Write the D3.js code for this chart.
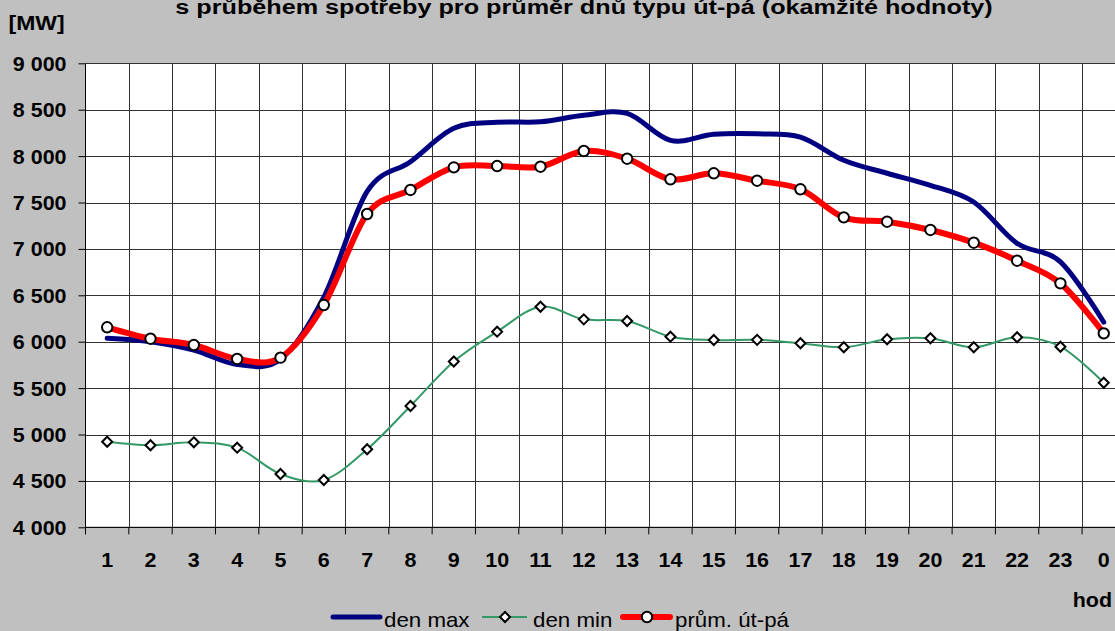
<!DOCTYPE html>
<html>
<head>
<meta charset="utf-8">
<script src="https://cdn.jsdelivr.net/npm/d3@7/dist/d3.min.js"></script>
<style>
  html, body { margin: 0; padding: 0; background: #c0c0c0; }
  svg { display: block; }
  text { font-family: "Liberation Sans", Arial, sans-serif; fill: #000; }
</style>
</head>
<body>
<svg id="chart" width="1115" height="631"></svg>
<script>
const categories = ["1","2","3","4","5","6","7","8","9","10","11","12","13","14","15","16","17","18","19","20","21","22","23","0"];
const denMax = [6037, 6000, 5910, 5755, 5810, 6480, 7620, 7940, 8300, 8365, 8370, 8440, 8460, 8170, 8235, 8240, 8205, 7955, 7815, 7685, 7505, 7060, 6860, 6210];
const denMin = [4922, 4884, 4916, 4858, 4574, 4510, 4841, 5307, 5787, 6108, 6377, 6241, 6223, 6054, 6018, 6020, 5983, 5940, 6026, 6037, 5940, 6048, 5946, 5558];
const prumUtPa = [6155, 6032, 5964, 5814, 5828, 6395, 7376, 7635, 7879, 7893, 7886, 8055, 7972, 7750, 7815, 7735, 7642, 7340, 7293, 7204, 7067, 6873, 6629, 6090];
const yTicks = [4000, 4500, 5000, 5500, 6000, 6500, 7000, 7500, 8000, 8500, 9000];
const yTickLabels = ["4 000", "4 500", "5 000", "5 500", "6 000", "6 500", "7 000", "7 500", "8 000", "8 500", "9 000"];
const titleText = "s  průběhem spotřeby pro průměr dnů typu út-pá (okamžité hodnoty)";
const unitText = "[MW]";
const xAxisText = "hod";
const legendLabels = ["den max", "den min", "prům. út-pá"];

const svg = d3.select("#chart");
const W = 1115, H = 631;
svg.append("rect").attr("width", W).attr("height", H).attr("fill", "#c0c0c0");

const plotLeft = 85.5, plotTop = 63.3, plotBottom = 527.3, bandW = 43.33;
const plotRight = plotLeft + bandW * categories.length;

const x = d3.scaleBand().domain(categories).range([plotLeft, plotRight]).padding(0);
const xc = d => x(d) + x.bandwidth() / 2;
const y = d3.scaleLinear().domain([4000, 9000]).range([plotBottom, plotTop]);

// plot area
svg.append("rect").attr("x", plotLeft).attr("y", plotTop)
  .attr("width", plotRight - plotLeft).attr("height", plotBottom - plotTop).attr("fill", "#fff");

// gridlines
const grid = svg.append("g").attr("stroke", "#333").attr("stroke-width", 1).attr("shape-rendering", "crispEdges");
grid.selectAll("line.h").data(yTicks).join("line")
  .attr("x1", plotLeft).attr("x2", plotRight)
  .attr("y1", d => Math.round(y(d)) + 0.5).attr("y2", d => Math.round(y(d)) + 0.5);
grid.selectAll("line.v").data(categories.slice(1)).join("line")
  .attr("x1", d => Math.round(x(d)) + 0.5).attr("x2", d => Math.round(x(d)) + 0.5)
  .attr("y1", plotTop).attr("y2", plotBottom);

// axes
const yAxis = d3.axisLeft(y).tickValues(yTicks).tickSize(7).tickFormat("");
const gy = svg.append("g").attr("transform", `translate(${plotLeft},0)`).call(yAxis);
gy.select(".domain").attr("stroke", "#000").attr("d", `M0,${plotTop}V${plotBottom + 7}`);
gy.selectAll(".tick line").attr("stroke", "#000");

const xAxis = d3.axisBottom(x).tickSize(7).tickFormat("");
const gx = svg.append("g").attr("transform", `translate(0,${plotBottom})`).call(xAxis);
gx.select(".domain").attr("stroke", "#000").attr("d", `M${plotLeft},0H${plotRight}`);
gx.selectAll(".tick").attr("transform", d => `translate(${x(d)},0)`);
gx.selectAll(".tick line").attr("stroke", "#000");
gx.append("line").attr("x1", plotRight).attr("x2", plotRight).attr("y1", 0).attr("y2", 7).attr("stroke", "#000");

function txt(g, str, px, py, opts) {
  const sx = opts.sx || 1.1;
  return g.append("text")
    .attr("transform", `translate(${px},${py}) scale(${sx},1)`)
    .attr("text-anchor", opts.anchor || "start")
    .attr("font-size", opts.size || 19.5)
    .attr("font-weight", opts.weight || "bold")
    .text(str);
}

// y tick labels
yTicks.forEach((v, i) => txt(svg, yTickLabels[i], 66.5, y(v) + 7.5, {anchor: "end"}));
// x tick labels
categories.forEach(c => txt(svg, c, xc(c), 567.3, {anchor: "middle"}));

txt(svg, titleText, 584, 14, {anchor: "middle", size: 21, sx: 1.2});
txt(svg, unitText, 8.5, 30, {anchor: "start", size: 20.5, sx: 1.12});
txt(svg, xAxisText, 1112, 607, {anchor: "end"});

// series
const curve = d3.curveCardinal.tension(0);
const line = d3.line().x((d, i) => xc(categories[i])).y(d => y(d)).curve(curve);

svg.append("path").datum(denMax).attr("d", line).attr("fill", "none")
  .attr("stroke", "#000080").attr("stroke-width", 5).attr("stroke-linecap", "round");
svg.append("path").datum(denMin).attr("d", line).attr("fill", "none")
  .attr("stroke", "#339966").attr("stroke-width", 2);
svg.append("path").datum(prumUtPa).attr("d", line).attr("fill", "none")
  .attr("stroke", "#ff0000").attr("stroke-width", 6).attr("stroke-linecap", "round");

const diamond = (cx, cy, r) => `M${cx},${cy - r}L${cx + r},${cy}L${cx},${cy + r}L${cx - r},${cy}Z`;

svg.append("g").selectAll("path").data(denMin).join("path")
  .attr("d", (d, i) => diamond(xc(categories[i]), y(d), 5))
  .attr("fill", "#fff").attr("stroke", "#000").attr("stroke-width", 2);
svg.append("g").selectAll("circle").data(prumUtPa).join("circle")
  .attr("cx", (d, i) => xc(categories[i])).attr("cy", d => y(d)).attr("r", 5.2)
  .attr("fill", "#fff").attr("stroke", "#000").attr("stroke-width", 2);

// legend
const lg = svg.append("g");
const ly = 617;
lg.append("line").attr("x1", 333).attr("x2", 380).attr("y1", ly).attr("y2", ly)
  .attr("stroke", "#000080").attr("stroke-width", 5).attr("stroke-linecap", "round");
txt(lg, legendLabels[0], 384, 627, {size: 19.4, weight: "normal", sx: 1.15});
lg.append("line").attr("x1", 482).attr("x2", 527).attr("y1", ly).attr("y2", ly)
  .attr("stroke", "#339966").attr("stroke-width", 2);
lg.append("path").attr("d", diamond(505, ly, 5)).attr("fill", "#fff").attr("stroke", "#000").attr("stroke-width", 2);
txt(lg, legendLabels[1], 533, 627, {size: 19.4, weight: "normal", sx: 1.15});
lg.append("line").attr("x1", 623).attr("x2", 670).attr("y1", ly).attr("y2", ly)
  .attr("stroke", "#ff0000").attr("stroke-width", 6).attr("stroke-linecap", "round");
lg.append("circle").attr("cx", 647).attr("cy", ly).attr("r", 5.2).attr("fill", "#fff").attr("stroke", "#000").attr("stroke-width", 2);
txt(lg, legendLabels[2], 675, 627, {size: 19.4, weight: "normal", sx: 1.15});
</script>
</body>
</html>
